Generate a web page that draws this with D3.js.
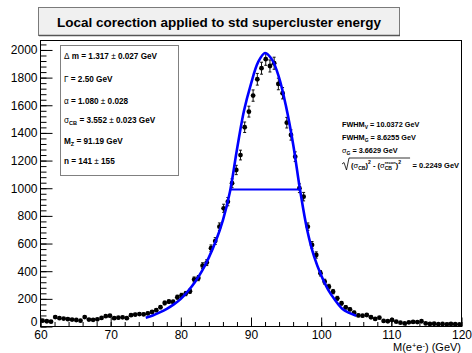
<!DOCTYPE html>
<html>
<head>
<meta charset="utf-8">
<script src="https://cdn.jsdelivr.net/npm/d3@7"></script>
<style>
  body { margin: 0; background: #fff; }
  svg { display: block; font-family: "Liberation Sans", Arial, Helvetica, sans-serif; }
</style>
</head>
<body>
<script>
// histogram: 100 bins of 0.6 GeV from 60 to 120
var binLow = 60, binWidth = 0.6;
var counts = [
  42, 38, 35, 68, 60, 57, 53, 50, 47, 42,
  68, 50, 48, 52, 62, 75, 78, 60, 64, 66,
  60, 82, 86, 90, 88, 95, 105, 118, 140, 170,
  180, 178, 212, 225, 238, 255, 340, 350, 440, 462,
  566, 618, 722, 855, 903, 1036, 1132, 1240, 1441, 1554,
  1670, 1788, 1868, 1933, 1884, 1904, 1754, 1687, 1474, 1385,
  1228, 1000, 939, 722, 590, 517, 385, 324, 288, 252,
  204, 168, 139, 124, 100, 80, 78, 83, 67, 55,
  64, 40, 38, 47, 35, 28, 22, 30, 33, 32,
  38, 22, 18, 20, 17, 18, 16, 18, 17, 16
];

// fit curve
var fitMass = [75, 76, 77, 78, 79, 80, 81, 82, 83, 84, 85, 86, 87, 88, 89, 90,
               91, 92, 93, 94, 95, 96, 97, 98, 99, 100, 101, 102, 103, 104, 105];
var fitVal = [64, 80, 102, 128, 160, 200, 255, 320, 400, 500, 620, 770, 975, 1280, 1560, 1755,
              1910, 1978, 1930, 1800, 1590, 1320, 985, 700, 505, 370, 265, 190, 128, 98, 78];

// FWHM marker
var fwhmMass = [87.0, 97.0];
var halfMax = 990;

var xTicks = [60, 70, 80, 90, 100, 110, 120];
var yTicks = [0, 200, 400, 600, 800, 1000, 1200, 1400, 1600, 1800, 2000];

var titleText = 'Local corection applied to std supercluster energy';

var statLines = [
  [['Δ', 'g'], [' m =  1.317 '], ['±', 'g'], [' 0.027 GeV']],
  [['Γ', 'g'], [' =  2.50 GeV']],
  [['α', 'g'], [' =  1.080 '], ['±', 'g'], [' 0.028']],
  [['σ', 'g'], ['CB', 'sub'], [' =  3.552 '], ['±', 'g'], [' 0.023 GeV']],
  [['M'], ['Z', 'sub'], [' =  91.19 GeV']],
  [['n =  141 '], ['±', 'g'], [' 155']]
];

var fwhmLines = [
  [['FWHM'], ['V', 'sub'], [' = 10.0372 GeV']],
  [['FWHM'], ['G', 'sub'], [' = 8.6255 GeV']],
  [['σ', 'g'], ['G', 'sub'], [' = 3.6629 GeV']]
];

var width = 472, height = 353;

var svg = d3.select('body').append('svg')
  .attr('width', width).attr('height', height);

var x = d3.scaleLinear().domain([60, 120]).range([40.5, 461.5]);
var y = d3.scaleLinear().domain([0, 2072]).range([326.5, 40]);

// rich text helper (greek normal weight, sub/superscripts)
function rich(sel, parts) {
  var shift = 0;
  parts.forEach(function (p) {
    var s = p[1] || '';
    var target = s === 'sub' ? 2.2 : (s === 'sup' ? -3.2 : 0);
    var ts = sel.append('tspan').text(p[0]).attr('dy', target - shift);
    shift = target;
    if (s === 'sub' || s === 'sup') ts.style('font-size', '68%');
    if (s === 'g') ts.style('font-weight', 'normal');
  });
}

// title box
svg.append('rect')
  .attr('x', 38.5).attr('y', 7.5).attr('width', 361).attr('height', 28)
  .attr('fill', '#f0f0f0').attr('stroke', '#7a7a7a');
svg.append('line')
  .attr('x1', 39).attr('x2', 400).attr('y1', 35.5).attr('y2', 35.5)
  .attr('stroke', '#555').attr('stroke-width', 1.5);
svg.append('text')
  .attr('x', 219).attr('y', 26.5)
  .attr('text-anchor', 'middle')
  .style('font-size', '13.5px').style('font-weight', 'bold')
  .text(titleText);

// frame
svg.append('rect')
  .attr('x', 40.5).attr('y', 40.5).attr('width', 421).attr('height', 286)
  .attr('fill', 'none').attr('stroke', '#000');

// axes
svg.append('g').attr('transform', 'translate(0,326.5)')
  .call(d3.axisBottom(x).tickValues(xTicks).tickSize(-9).tickPadding(4).tickFormat(d3.format('d')));
svg.append('g').attr('transform', 'translate(0,326.5)')
  .call(d3.axisBottom(x).tickValues(d3.range(60, 120.1, 2)).tickSize(-4.5).tickFormat(''));
svg.append('g').attr('transform', 'translate(40.5,0)')
  .call(d3.axisLeft(y).tickValues(yTicks).tickSize(-12).tickPadding(3).tickFormat(d3.format('d')));
svg.append('g').attr('transform', 'translate(40.5,0)')
  .call(d3.axisLeft(y).tickValues(d3.range(0, 2072, 40)).tickSize(-6).tickFormat(''));

svg.selectAll('.domain').remove();
svg.selectAll('.tick line').attr('stroke', '#000');
svg.selectAll('.tick text')
  .attr('fill', '#000')
  .style('font-family', '"Liberation Sans", Arial, sans-serif')
  .style('font-size', '12px');
// lift the "0" label a little so it clears "60"
svg.selectAll('.tick text').filter(function (d) { return d === 0 && this.getAttribute('x') !== null && +this.getAttribute('x') < 0; })
  .attr('dy', '-0.1em');

// x title
var xt = svg.append('text')
  .attr('x', 461).attr('y', 351)
  .attr('text-anchor', 'end')
  .style('font-size', '11px');
rich(xt, [['M(e'], ['+', 'sup'], ['e'], ['-', 'sup'], [') (GeV)']]);

// data points
var bins = counts.map(function (c, i) {
  return {m: binLow + binWidth * (i + 0.5), n: c};
});

var pts = svg.append('g');
pts.selectAll('line.err')
  .data(bins).enter().append('line')
  .attr('x1', d => x(d.m)).attr('x2', d => x(d.m))
  .attr('y1', d => y(d.n + Math.sqrt(d.n))).attr('y2', d => y(Math.max(0, d.n - Math.sqrt(d.n))))
  .attr('stroke', '#111').attr('stroke-width', 1);
pts.selectAll('line.capt')
  .data(bins).enter().append('line')
  .attr('x1', d => x(d.m) - 1.5).attr('x2', d => x(d.m) + 1.5)
  .attr('y1', d => y(d.n + Math.sqrt(d.n))).attr('y2', d => y(d.n + Math.sqrt(d.n)))
  .attr('stroke', '#111');
pts.selectAll('line.capb')
  .data(bins).enter().append('line')
  .attr('x1', d => x(d.m) - 1.5).attr('x2', d => x(d.m) + 1.5)
  .attr('y1', d => y(d.n - Math.sqrt(d.n))).attr('y2', d => y(d.n - Math.sqrt(d.n)))
  .attr('stroke', '#111');
pts.selectAll('circle')
  .data(bins).enter().append('circle')
  .attr('cx', d => x(d.m)).attr('cy', d => y(d.n))
  .attr('r', 2.4).attr('fill', '#000');

// fit curve
var fit = fitMass.map(function (m, i) { return [m, fitVal[i]]; });
svg.append('path')
  .datum(fit)
  .attr('fill', 'none').attr('stroke', '#0000ff').attr('stroke-width', 2.6)
  .attr('d', d3.line().x(d => x(d[0])).y(d => y(d[1])).curve(d3.curveCatmullRom));

// FWHM line
svg.append('line')
  .attr('x1', x(fwhmMass[0])).attr('x2', x(fwhmMass[1]))
  .attr('y1', y(halfMax)).attr('y2', y(halfMax))
  .attr('stroke', '#0000ff').attr('stroke-width', 2);

// stats box
svg.append('rect')
  .attr('x', 60.5).attr('y', 45.5).attr('width', 118).attr('height', 130)
  .attr('fill', '#fff').attr('stroke', '#808080');
var statY = [58.5, 82, 104, 123, 144, 164];
statLines.forEach(function (line, i) {
  var t = svg.append('text')
    .attr('x', 64).attr('y', statY[i])
    .style('font-size', '8.2px').style('font-weight', 'bold');
  rich(t, line);
});

// FWHM text
var fwY = [126.5, 139.5, 153];
fwhmLines.forEach(function (line, i) {
  var t = svg.append('text')
    .attr('x', 342).attr('y', fwY[i])
    .style('font-size', '7.3px').style('font-weight', 'bold');
  rich(t, line);
});

// sqrt line
var sqX = 351, sqBase = 167.5;
var sq = svg.append('text')
  .attr('x', sqX).attr('y', sqBase)
  .style('font-size', '7.5px').style('font-weight', 'bold');
rich(sq, [['('], ['σ', 'g'], ['CB', 'sub'], [')'], ['2', 'sup'], [' - ('], ['σ', 'g']]);
var cb = sq.append('tspan').text('CB').attr('dy', 2.2).style('font-size', '68%');
var cbw = cb.node().getComputedTextLength();
sq.append('tspan').text('recon').attr('dx', -cbw).attr('dy', -5.4).style('font-size', '55%');
sq.append('tspan').text(')').attr('dy', 3.2);
sq.append('tspan').text('2').attr('dy', -3.2).style('font-size', '68%');
sq.append('tspan').text('').attr('dy', 3.2);
var sqw = sq.node().getComputedTextLength();
var xr = sqX + sqw + 1.5;
svg.append('path')
  .attr('d', 'M342,164 L344,162.5 L346.5,170 L349,158 L' + xr + ',158')
  .attr('fill', 'none').attr('stroke', '#000').attr('stroke-width', 0.8);
svg.append('text')
  .attr('x', xr + 2.5).attr('y', sqBase)
  .style('font-size', '7.5px').style('font-weight', 'bold')
  .text('= 0.2249 GeV');
</script>
</body>
</html>
